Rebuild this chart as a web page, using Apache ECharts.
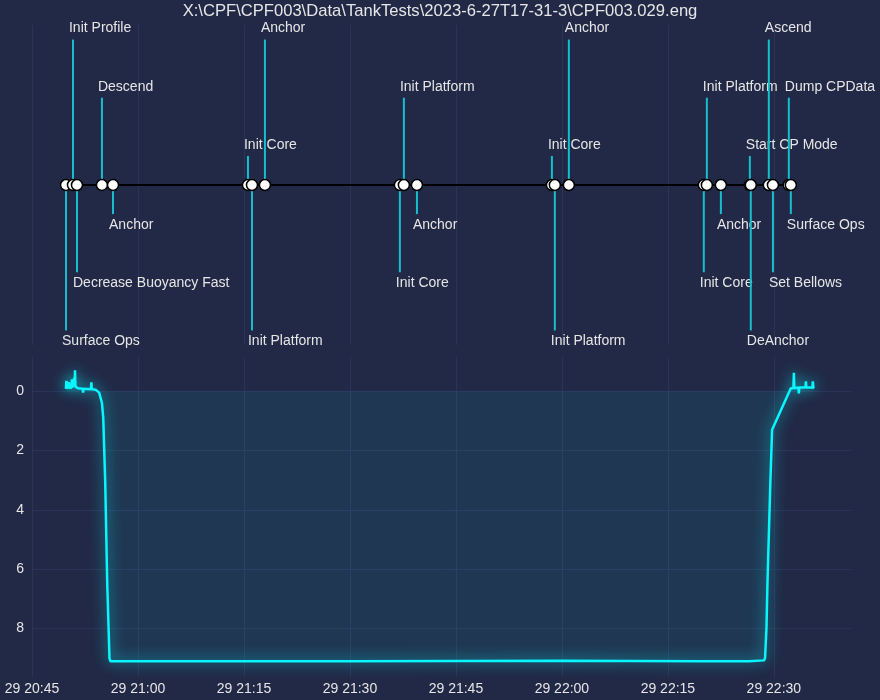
<!DOCTYPE html>
<html lang="en">
<head>
    <meta charset="UTF-8">
    <script src="https://cdn.jsdelivr.net/npm/echarts@6/dist/echarts.min.js"></script>
    <style>
        body { margin: 0; background: #212946; }
    </style>
</head>
<body>
    <div id="main" style="height: 700px;width: 880px;"></div>
    <script>
        // events
        var eventNames = ['Surface Ops', 'Init Profile', 'Decrease Buoyancy Fast', 'Descend', 'Anchor', 'Init Core',
            'Init Platform', 'Anchor', 'Init Core', 'Init Platform', 'Anchor', 'Init Core',
            'Init Platform', 'Anchor', 'Init Core', 'Init Platform', 'Anchor', 'Start CP Mode',
            'DeAnchor', 'Ascend', 'Set Bellows', 'Dump CPData', 'Surface Ops']
        var eventTimes = ['20:49:49', '20:50:48', '20:51:22', '20:54:54', '20:56:28', '21:15:34',
            '21:16:08', '21:17:58', '21:37:04', '21:37:38', '21:39:29', '21:58:35',
            '21:59:00', '22:00:59', '22:20:05', '22:20:31', '22:22:30', '22:26:36',
            '22:26:44', '22:29:17', '22:29:52', '22:32:07', '22:32:24']
        var eventLevels = [-5, 5, -3, 3, -1, 1, -5, 5, -3, 3, -1, 1, -5, 5, -3, 3, -1, 1, -5, 5, -3, 3, -1]

        // depth trace
        var depthTimes = ['20:49:48', '20:49:52', '20:49:56', '20:50:10', '20:50:14', '20:50:18', '20:50:35', '20:50:39',
            '20:50:43', '20:50:55', '20:50:59', '20:51:03', '20:51:05', '20:51:09', '20:51:30', '20:52:10',
            '20:52:14', '20:52:18', '20:53:20', '20:53:24', '20:53:28', '20:54:00', '20:54:30', '20:54:54',
            '20:55:05', '20:55:22', '20:55:39', '20:55:58', '20:56:07', '21:30:00', '22:00:00', '22:20:00',
            '22:26:30', '22:26:40', '22:28:36', '22:28:45', '22:28:57', '22:29:06', '22:29:30', '22:29:45',
            '22:32:24', '22:32:46', '22:32:50', '22:32:54', '22:33:28', '22:33:32', '22:33:36', '22:34:28',
            '22:34:32', '22:34:36', '22:35:27', '22:35:31', '22:35:35', '22:35:43']
        var depths = [-0.08, -0.35, -0.08, -0.1, -0.3, -0.1, -0.12, -0.4,
            -0.12, -0.15, -0.45, -0.15, -0.7, -0.15, -0.1, -0.08,
            0.05, -0.08, -0.06, -0.3, -0.06, -0.05, 0.05, 0.4,
            0.9, 3.1, 6.5, 9.0, 9.1, 9.1, 9.08, 9.1,
            9.1, 9.07, 9.07, 9.0, 8.0, 6.4, 3.1, 1.3,
            -0.1, -0.1, -0.62, -0.1, -0.12, 0.08, -0.12, -0.12,
            -0.33, -0.12, -0.12, -0.33, -0.12, -0.1]

        var day = '2023-06-29T'
        var textColor = '#e6e6e6'
        var gridColor = '#2A3459'
        var font = '"Liberation Sans", Arial, sans-serif'
        var QUARTER = 15 * 60 * 1000

        function ms(t) { return new Date(day + t).getTime() }

        var eventData = eventTimes.map(function (t, i) { return [ms(t), eventLevels[i]] })
        var baseData = eventTimes.map(function (t) { return [ms(t), 0] })
        var depthData = depthTimes.map(function (t, i) { return [ms(t), depths[i]] })

        var timeAxis = {
            type: 'value',
            min: ms('20:45:00'),
            max: ms('22:40:55'),
            interval: QUARTER,
            axisLine: { show: false },
            axisTick: { show: false },
            splitLine: { show: true, showMaxLine: false, lineStyle: { color: gridColor, width: 1 } }
        }

        var myCharts = echarts.init(document.getElementById('main'))
        var option = {
            backgroundColor: '#212946',
            animation: false,
            title: {
                text: 'X:\\CPF\\CPF003\\Data\\TankTests\\2023-6-27T17-31-3\\CPF003.029.eng',
                left: 'center',
                top: -2,
                textStyle: { color: textColor, fontSize: 16.6, fontWeight: 'normal', fontFamily: font }
            },
            grid: [
                { left: 32, right: 29, top: 25, height: 320 },
                { left: 32, right: 29, top: 357, bottom: 23 }
            ],
            xAxis: [
                Object.assign({}, timeAxis, { gridIndex: 0, axisLabel: { show: false } }),
                Object.assign({}, timeAxis, {
                    gridIndex: 1,
                    axisLabel: {
                        color: textColor, fontSize: 14, fontFamily: font, margin: 5,
                        showMaxLabel: false, hideOverlap: false,
                        formatter: function (v) { return echarts.time.format(v, '{dd} {HH}:{mm}', false) }
                    }
                })
            ],
            yAxis: [
                { gridIndex: 0, type: 'value', min: -5.5, max: 5.5, show: false, splitLine: { show: false } },
                {
                    gridIndex: 1, type: 'value', inverse: true, min: -1.15, max: 9.63,
                    axisLine: { show: false }, axisTick: { show: false },
                    axisLabel: { color: textColor, fontSize: 14, fontFamily: font, showMinLabel: false, showMaxLabel: false },
                    splitLine: { showMinLine: false, showMaxLine: false, lineStyle: { color: gridColor } }
                }
            ],
            series: [
                {
                    type: 'custom',
                    xAxisIndex: 0,
                    yAxisIndex: 0,
                    data: eventData,
                    clip: false,
                    z: 2,
                    renderItem: function (params, api) {
                        var t = api.value(0), lv = api.value(1)
                        var p0 = api.coord([t, 0]), p1 = api.coord([t, lv])
                        var up = lv > 0
                        return {
                            type: 'group',
                            children: [
                                { type: 'line', shape: { x1: p0[0], y1: p0[1], x2: p1[0], y2: p1[1] },
                                  style: { stroke: '#17becf', lineWidth: 2 } },
                                { type: 'text', x: p1[0] - 4, y: up ? p1[1] - 4 : p1[1] + 4,
                                  style: { text: eventNames[params.dataIndex], fill: textColor, font: '14px ' + font,
                                           align: 'left', verticalAlign: up ? 'bottom' : 'top' } }
                            ]
                        }
                    }
                },
                {
                    type: 'line',
                    xAxisIndex: 0,
                    yAxisIndex: 0,
                    data: baseData,
                    z: 5,
                    symbol: 'circle',
                    symbolSize: 11,
                    itemStyle: { color: '#ffffff', borderColor: '#000000', borderWidth: 1.5 },
                    lineStyle: { color: '#000000', width: 2 }
                },
                {
                    type: 'line',
                    xAxisIndex: 1,
                    yAxisIndex: 1,
                    data: depthData,
                    showSymbol: false,
                    lineStyle: { color: '#08F7FE', width: 2.5, shadowBlur: 14, shadowColor: 'rgba(8,247,254,0.9)' },
                    areaStyle: { color: 'rgba(8,247,254,0.1)' }
                }
            ]
        }
        myCharts.setOption(option)
    </script>
</body>
</html>
